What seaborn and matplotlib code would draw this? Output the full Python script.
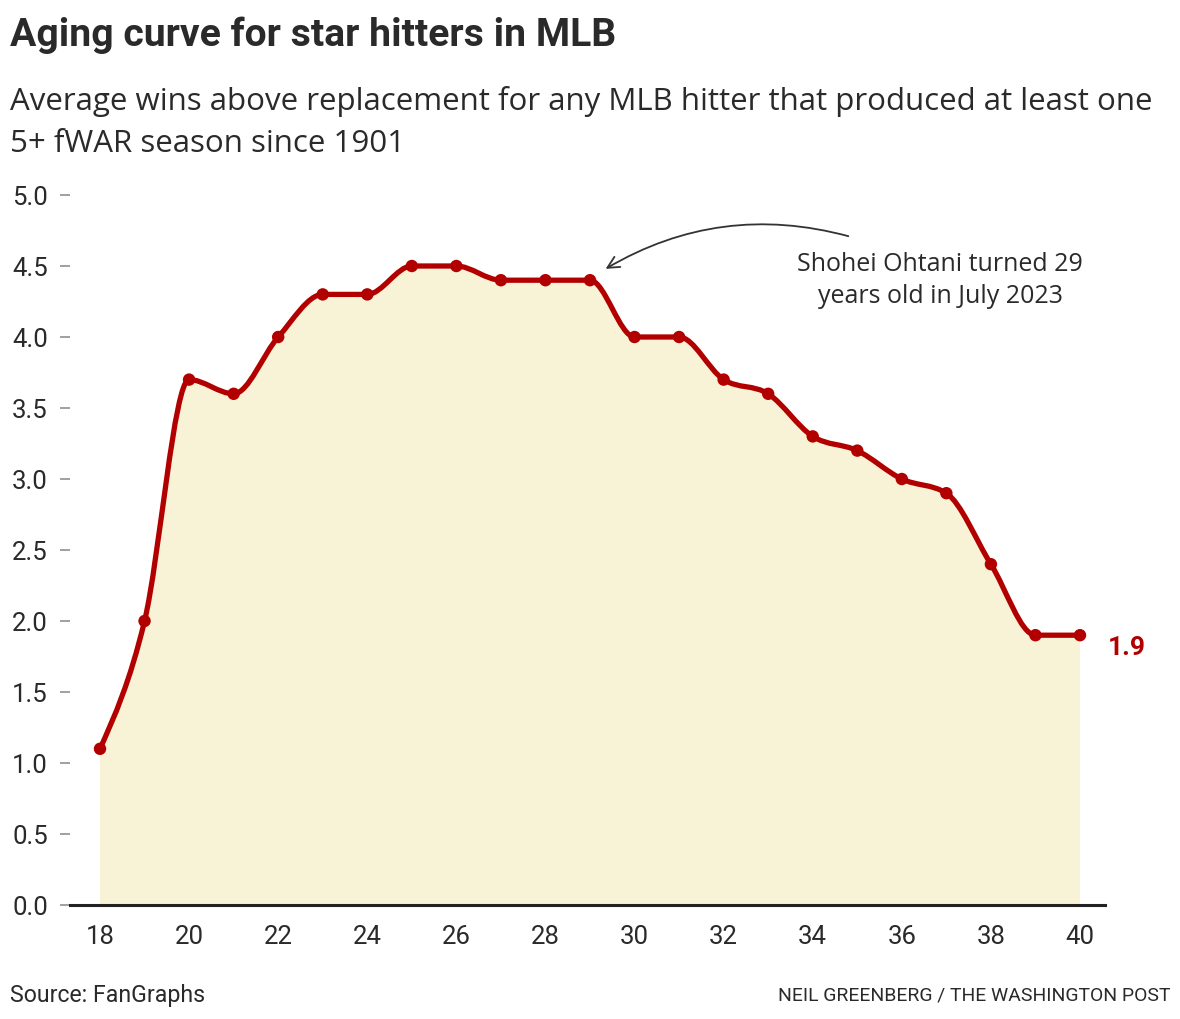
import numpy as np
import pandas as pd
import seaborn as sns
import matplotlib
matplotlib.use("Agg")
import matplotlib.pyplot as plt
from matplotlib.path import Path
from matplotlib.patches import PathPatch

# ---- data ----
ages = [18, 19, 20, 21, 22, 23, 24, 25, 26, 27, 28, 29, 30, 31, 32, 33, 34, 35, 36, 37, 38, 39, 40]
war = [1.1, 2.0, 3.7, 3.6, 4.0, 4.3, 4.3, 4.5, 4.5, 4.4, 4.4, 4.4, 4.0, 4.0, 3.7, 3.6, 3.3, 3.2, 3.0, 2.9, 2.4, 1.9, 1.9]
y_ticks = [0.0, 0.5, 1.0, 1.5, 2.0, 2.5, 3.0, 3.5, 4.0, 4.5, 5.0]
x_ticks = [18, 20, 22, 24, 26, 28, 30, 32, 34, 36, 38, 40]
title = "Aging curve for star hitters in MLB"
subtitle1 = "Average wins above replacement for any MLB hitter that produced at least one"
subtitle2 = "5+ fWAR season since 1901"
note1 = "Shohei Ohtani turned 29"
note2 = "years old in July 2023"
source = "Source: FanGraphs"
credit = "NEIL GREENBERG / THE WASHINGTON POST"

df = pd.DataFrame({"age": ages, "war": war})

RED = "#b20000"
FILL = "#f8f2d7"
TXT = "#2a2a2a"

sns.set_theme(style="white")
plt.rcParams["font.family"] = ["Roboto", "DejaVu Sans"]


def monotone_path(xs, ys):
    """Bezier path of a monotone cubic curve (like d3.curveMonotoneX) through the data."""
    xs = np.asarray(xs, float)
    ys = np.asarray(ys, float)
    n = len(xs)
    sgn = lambda v: -1.0 if v < 0 else 1.0
    t = np.zeros(n)
    for i in range(1, n - 1):
        h0 = xs[i] - xs[i - 1]
        h1 = xs[i + 1] - xs[i]
        s0 = (ys[i] - ys[i - 1]) / h0
        s1 = (ys[i + 1] - ys[i]) / h1
        p = (s0 * h1 + s1 * h0) / (h0 + h1)
        t[i] = (sgn(s0) + sgn(s1)) * min(abs(s0), abs(s1), 0.5 * abs(p))
    t[0] = (3 * (ys[1] - ys[0]) / (xs[1] - xs[0]) - t[1]) / 2
    t[-1] = (3 * (ys[-1] - ys[-2]) / (xs[-1] - xs[-2]) - t[-2]) / 2
    verts = [(xs[0], ys[0])]
    codes = [Path.MOVETO]
    for i in range(n - 1):
        dx = (xs[i + 1] - xs[i]) / 3
        verts += [(xs[i] + dx, ys[i] + dx * t[i]),
                  (xs[i + 1] - dx, ys[i + 1] - dx * t[i + 1]),
                  (xs[i + 1], ys[i + 1])]
        codes += [Path.CURVE4] * 3
    return verts, codes


fig = plt.figure(figsize=(11.8, 10.2), dpi=100)
ax = fig.add_axes([70 / 1180, (1020 - 906) / 1020, 1035 / 1180, 717 / 1020])
renderer = fig.canvas.get_renderer()


def fit_width(txt, target_px):
    w = txt.get_window_extent(renderer=renderer).width
    txt.set_fontsize(txt.get_fontsize() * target_px / w)


verts, codes = monotone_path(df["age"], df["war"])
fverts = verts + [(ages[-1], 0), (ages[0], 0), verts[0]]
fcodes = codes + [Path.LINETO, Path.LINETO, Path.CLOSEPOLY]
ax.add_patch(PathPatch(Path(fverts, fcodes), facecolor=FILL, edgecolor="none", zorder=1))
ax.add_patch(PathPatch(Path(verts, codes), facecolor="none", edgecolor=RED, lw=3.8,
                       capstyle="round", joinstyle="round", zorder=3))
sns.scatterplot(data=df, x="age", y="war", ax=ax, color=RED, s=80, edgecolor="none",
                zorder=4, legend=False)

ax.set_xlim(18 - 30 / 44.545, 40 + 25 / 44.545)
ax.set_ylim(0, 717 / 142)
ax.set_xticks(x_ticks)
ax.set_xticklabels([str(v) for v in x_ticks])
ax.set_yticks(y_ticks)
ax.set_yticklabels([f"{v:.1f}" for v in y_ticks])
ax.set_xlabel("")
ax.set_ylabel("")
for s in ["top", "right", "left"]:
    ax.spines[s].set_visible(False)
ax.spines["bottom"].set_color("#222222")
ax.spines["bottom"].set_linewidth(2.2)
ax.spines["bottom"].set_zorder(5)
ax.tick_params(axis="y", which="both", left=True, length=7, width=1.3, color="#999999",
               pad=9, labelsize=18.5, labelcolor=TXT)
ax.tick_params(axis="x", which="both", bottom=False, pad=8, labelsize=18.5, labelcolor=TXT)
ax.set_facecolor("white")

# end label
ax.text(40.62, 1.82, "1.9", color=RED, fontsize=19, fontweight="bold", va="center", ha="left")

# annotation
ax.annotate("", xy=(29.35, 4.48), xytext=(34.8, 4.71),
            arrowprops=dict(arrowstyle="->,head_length=0.7,head_width=0.35",
                            connectionstyle="arc3,rad=0.21", color="#333333", lw=1.3,
                            shrinkA=0, shrinkB=0))
n1 = ax.text(36.86, (906 - 265) / 142, note1, ha="center", va="center", fontsize=18,
             color=TXT, family=["Open Sans", "DejaVu Sans"])
n2 = ax.text(36.86, (906 - 297) / 142, note2, ha="center", va="center", fontsize=18,
             color=TXT, family=["Open Sans", "DejaVu Sans"])
fit_width(n1, 286)
n2.set_fontsize(n1.get_fontsize())

# titles and footer
t = fig.text(10 / 1180, 1 - 46 / 1020, title, fontsize=27, fontweight="bold", color=TXT,
             ha="left", va="baseline")
fit_width(t, 605)
s1 = fig.text(10 / 1180, 1 - 110 / 1020, subtitle1, fontsize=21, color=TXT,
              ha="left", va="baseline", family=["Open Sans", "DejaVu Sans"])
fit_width(s1, 1145)
s2 = fig.text(10 / 1180, 1 - 152 / 1020, subtitle2, fontsize=21, color=TXT,
              ha="left", va="baseline", family=["Open Sans", "DejaVu Sans"])
s2.set_fontsize(s1.get_fontsize())
src = fig.text(10 / 1180, 1 - 1002 / 1020, source, fontsize=15, color=TXT, ha="left",
               va="baseline")
fit_width(src, 195)
cr = fig.text(1170 / 1180, 1 - 1001 / 1020, credit, fontsize=13.5, color=TXT, ha="right",
              va="baseline")
fit_width(cr, 390)

fig.savefig("out.png", dpi=100, facecolor="white")
